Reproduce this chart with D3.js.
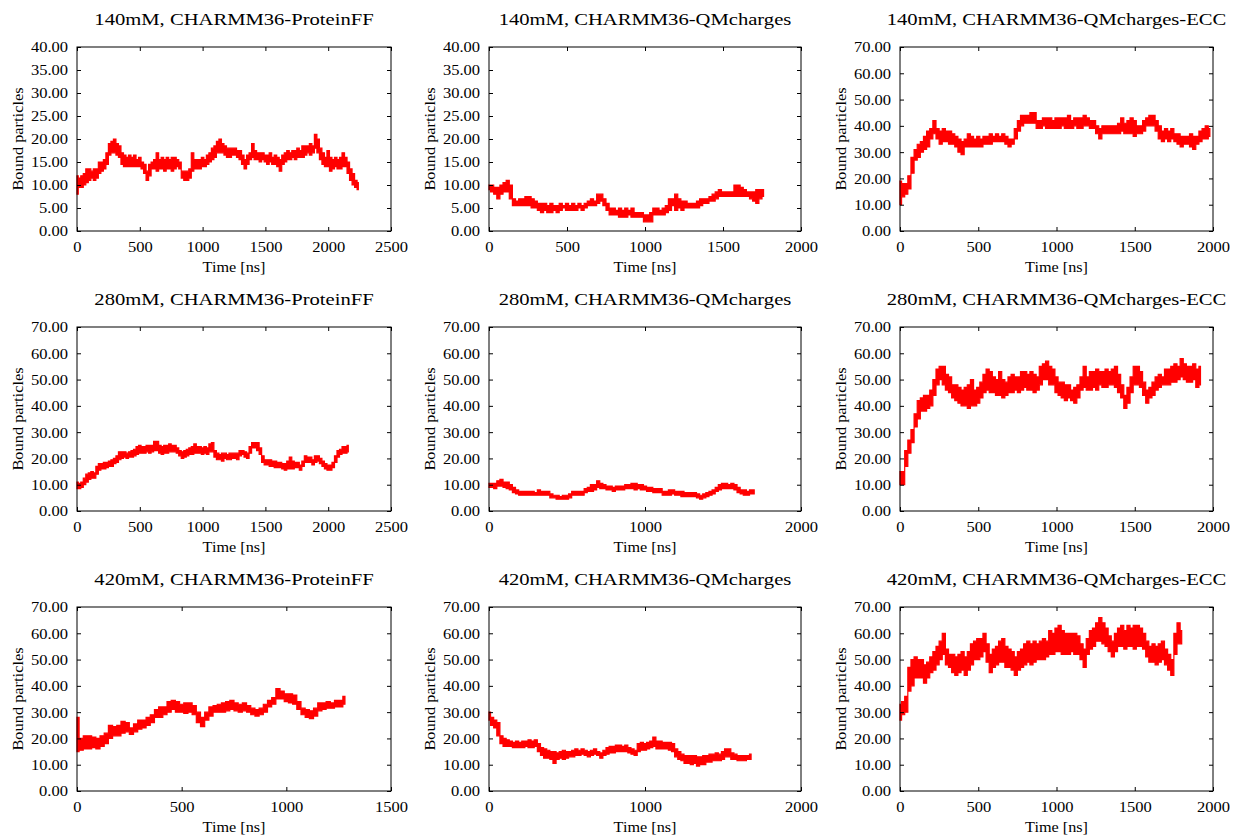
<!DOCTYPE html>
<html>
<head>
<meta charset="utf-8">
<script src="https://cdn.jsdelivr.net/npm/d3@7"></script>
<style>
  body { margin: 0; background: #fff; }
  svg { display: block; }
  text { font-family: "Liberation Serif", "Times New Roman", serif; fill: #000; }
</style>
</head>
<body>
<svg id="chart" width="1236" height="839"></svg>
<script>
// Bound particles: lowest and highest count within each 20 ns window, from t = 0.
const p140ProteinLo = [8,9.5,9.5,10,10.5,11,11.5,11,11.5,12.5, 13,13.5,14.5,16.5,17,17,16.5,16,14.5,14,
  14,14,14,14,14,14,13.5,12.5,11,12, 13.5,13.5,13,13.5,13.5,13,13.5,13.5,13,13.5,
  14,13.5,11.5,11,11,11.5,13,13.5,13.5,13.5, 14,14,14.5,15,15.5,16,17,17,17,16.5,
  16,16,16.5,16.5,16,15.5,14.5,13.5,14.5,15.5, 16,15.5,15.5,15,15.5,15,14.5,15,14.5,14.5,
  14,13,14.5,15,15.5,15.5,16,15.5,16,16, 16,16.5,17,16.5,17,18,17,15.5,14.5,14,
  14,13,13.5,14,13.5,13.5,14,14,12.5,11, 10,9.5,9];
const p140ProteinHi = [12,11.5,12,12.5,13.5,13.5,13,13.5,13.5,15, 15,15.5,17,19,19.5,20,19,18.5,17,16.5,
  16,16.5,16,16.5,15.5,16,15,14.5,13,14.5, 15,15.5,17,15.5,16,15.5,16,15.5,16,16,
  15.5,15,13,13,13,13.5,17,15.5,15.5,15.5, 16,15.5,16.5,17,18,18.5,19.5,20,19,18.5,
  18,18,18,18,17.5,17.5,16.5,15.5,16.5,17, 19,17.5,17,17,17,16.5,16.5,17,16,16.5,
  16,15.5,16.5,17,17.5,17,17.5,17.5,18,17.5, 18.5,18.5,18.5,19,18.5,21,20,18,17,16,
  17.5,16,15.5,16,15.5,16,17,16,15,13.5, 12.5,11,10.5];
const p140QMLo = [9,8.5,8,7,8,8.5,8.5,7,5.5,5.5, 5.5,5.5,5.5,5.5,5,5,4.5,4,4.5,4,
  4,4.5,4,4.5,5,4.5,4.5,4.5,4.5,5, 4.5,5,5.5,5.5,5.5,6,6.5,5.5,4.5,3.5,
  3.5,3.5,3,3,3,3.5,3,3,3,3, 2,2,2,3.5,3.5,3.5,3.5,4,4.5,5.5,
  4.5,5,4.5,5,5,5,5,5,5.5,6, 6,6.5,6.5,7,7.5,7.5,7.5,7.5,7.5,7.5,
  7.5,7.5,7.5,7.5,7,6.5,6,7,7.5];
const p140QMHi = [10,10,9.5,9.5,10,10.5,11,10,7,6.5, 7,7,7.5,7.5,7,6.5,6,6,6,5.5,
  6,5.5,5.5,6,5.5,6,5.5,6,5.5,6, 5.5,6,6.5,7,6.5,8,8,7,6,5,
  5,4.5,5,4.5,5,4.5,5,4,4,4, 3.5,3.5,4,5,5,4.5,5,5.5,7,7,
  8,7,6.5,6.5,6,6,6,6.5,7,7, 7,7.5,8,8.5,9,8.5,8.5,8.5,8.5,10,
  10,9.5,9,8.5,8.5,8.5,9,9,9];
const p140ECCLo = [10,13,14,16,22,27,28,30,31,32, 35,37,35,33,34,34,33,33,32,30,
  29,32,32,32,32,32,32,33,33,33, 34,34,34,34,33,32,33,35,38,40,
  41,41,41,41,39,39,40,39,39,39, 39,39,40,39,39,39,40,39,39,40,
  40,39,39,37,35,37,37,37,37,37, 37,38,37,37,37,36,37,37,38,40,
  40,40,38,35,34,35,34,35,34,33, 32,33,33,32,31,33,34,35,35,36];
const p140ECCHi = [19,18,18,21,28,31,33,34,36,38, 39,42,39,38,39,38,38,37,36,35,
  34,35,37,36,35,36,35,36,36,37, 36,37,36,37,36,35,35,39,42,44,
  44,44,45,45,42,42,43,43,43,42, 43,43,43,43,44,42,43,43,43,44,
  43,42,42,40,39,40,40,40,40,40, 41,43,41,42,43,42,40,40,42,43,
  44,44,42,40,38,39,38,39,37,37, 36,36,36,37,36,36,38,39,40,39];
const p280ProteinLo = [8.5,8.5,9,10,11,12,12.5,12.5,14,15.5, 16,16,16.5,17,17,18,18.5,19.5,20,20.5,
  20,20.5,20.5,21,21.5,22,22,22,22.5,22, 22.5,23,23,22,21.5,22,22,22.5,22.5,22.5,
  22,21,20,20.5,21,21.5,21.5,22,22,22, 21.5,22,21.5,22.5,22.5,20.5,19.5,19.5,19,20,
  19.5,19.5,20,20,19.5,21,21.5,20.5,20,22, 24,24,23,21.5,18.5,17.5,17.5,17,17,16.5,
  16.5,16.5,16,15.5,16,16,16,16.5,16.5,15.5, 17,18.5,18.5,18.5,17.5,18.5,19,18,17,16,
  15.5,15.5,16.5,18.5,20.5,21.5,22,22,22.5];
const p280ProteinHi = [11,10.5,11,12.5,14,14.5,15,14.5,17,18, 18,18.5,18.5,19,19.5,20,21,22.5,22.5,22.5,
  22,22.5,23,23.5,24.5,25,24.5,24.5,25,25, 25,26.5,26.5,25,24.5,25,25,25.5,25,25,
  24,23,22.5,23,23.5,24,24.5,25.5,24.5,24.5, 24,24.5,24,25.5,26,23,22,21.5,22,22,
  21.5,22,22,22,22,23,23,22.5,22,24.5, 26,26,26,24,21,19.5,19.5,19.5,19,19,
  18.5,18.5,18,18,19,20.5,19,18.5,18.5,17.5, 19,21,20.5,20.5,19.5,21,21,20,19,18,
  17.5,17.5,18.5,21,23,23.5,24.5,24.5,25];
const p280QMLo = [9,9,8.5,9.5,9.5,9,8.5,8,7,6.5, 6,6,6,6,6,6,6,6,6,6,
  5,5,4.5,4.5,4.5,4.5,5,6,6,6, 6,7,7.5,7.5,8,9,8.5,8.5,8,8,
  7.5,8,8,8,8.5,8.5,8.5,8,8.5,8, 8,7.5,7.5,7,7,7,6,6,6,6.5,
  6,6,5.5,5.5,5.5,5.5,5.5,5,4.5,5, 5.5,6,6.5,7.5,8,8.5,8.5,8.5,8.5,8,
  7,6.5,6,6,6.5,6.5];
const p280QMHi = [10.5,10.5,10.5,11.5,12,11,11,10,9,8, 7.5,7.5,7.5,7.5,7.5,7,8,7.5,7.5,7.5,
  6.5,6,6,5.5,6,6,6.5,7.5,7.5,7.5, 7.5,8.5,9,10,10,11.5,10.5,10,9.5,9.5,
  9,9.5,9.5,9.5,10,10,10.5,10.5,10,10, 9.5,9,9,8.5,8.5,8.5,7.5,7.5,8,8,
  7.5,7.5,7.5,7,7,7,7,6.5,6,6.5, 7,7.5,8,9,10,10.5,10.5,10,10.5,10,
  9,8,8,7.5,8,8];
const p280ECCLo = [10,10,17,22,26,32,35,38,38,39, 40,44,48,50,48,46,45,43,42,41,
  40,40,39,40,40,41,43,45,46,45, 45,44,44,43,44,45,45,46,45,46,
  47,46,46,45,46,48,50,50,48,48, 45,44,43,42,43,42,41,43,46,47,
  46,46,47,46,48,47,47,48,48,47, 45,43,39,41,45,48,48,47,44,41,
  43,44,46,47,48,48,48,49,49,50, 51,50,49,49,50,47,48];
const p280ECCHi = [15,15,23,27,31,37,42,43,44,44, 46,50,54,55,55,52,51,48,48,47,
  46,47,48,50,46,47,49,52,54,53, 51,50,53,50,49,51,52,51,51,53,
  53,52,53,52,51,55,56,57,55,54, 51,49,49,48,48,46,47,48,51,55,
  51,53,53,54,53,53,54,53,54,55, 52,48,44,47,51,55,55,53,49,46,
  47,49,51,52,51,54,54,55,56,55, 58,56,55,55,56,54,55];
const p420ProteinLo = [15,15.5,16,16,16.5,16,17,18,20,21, 21,22,22.5,21.5,22.5,23.5,24,25,26,28,
  28,29,30,31,30,30,29.5,30,29,26, 24.5,27,28.5,30,30,30,30.5,31,30.5,30,
  30.5,30,29,28.5,29,30,32,33,35,35, 34,33.5,33,31,29,28,27.5,28.5,30.5,31,
  31.5,31.5,32,32,33];
const p420ProteinHi = [28,20,21,21,20.5,20,21,22,25,24.5, 25,26.5,26,24,25.5,27,27,28,29,31,
  32,32,34,34.5,34,33,33.5,33.5,32.5,30, 28,30,32,32.5,33,33.5,34,34.5,33.5,33,
  33.5,32.5,31.5,31,31.5,33,34.5,35.5,39,38, 37,37,36.5,34,31.5,31,30.5,31.5,33.5,33.5,
  34,33.5,34.5,34.5,36];
const p420QMLo = [27,25,24,21,18,17,17,17,16.5,16.5, 16.5,16.5,17,16.5,16.5,17,15,13.5,12.5,12.5,
  12,10.5,12,12.5,12,12.5,13,13,13.5,13.5, 14,13.5,13,13.5,14,13.5,12.5,13.5,14,14.5,
  14.5,15,15,15,15,14.5,14,13.5,15,15.5, 15.5,16,16.5,17,16,16,16,16,15.5,15,
  13,12,11.5,10.5,10.5,10,10.5,9.5,10,10, 11,11,11.5,11.5,11.5,12,13,13,12,12,
  11.5,11.5,11.5,12,12];
const p420QMHi = [30,28,27,26,21,20,19.5,19,18.5,19, 18.5,19,19,19.5,19,19.5,18,16.5,16,15.5,
  15,15,14.5,15,15.5,15,15,15.5,16,15.5, 16,15.5,15,15.5,16,15,14.5,15.5,16.5,17,
  17,17.5,17.5,17,17.5,16.5,16,15.5,18,18.5, 18,18.5,19,20.5,19,19,18.5,18.5,18.5,18,
  16,15,14,13.5,13.5,13.5,13.5,13,13,13.5, 13.5,14,14,14.5,14,15,16,16,14.5,14,
  13.5,13.5,13.5,13.5,14];
const p420ECCLo = [27,29,30,38,40,43,43,43,41,43, 45,46,48,50,52,48,47,45,44,45,
  46,44,46,48,50,50,51,53,49,45, 47,48,49,49,47,47,46,44,46,47,
  48,49,48,49,50,50,50,51,52,52, 53,53,52,52,52,53,52,52,50,47,
  52,54,55,57,57,56,55,53,51,53, 55,55,54,55,55,54,55,55,54,51,
  49,49,48,49,50,48,46,44,52,56, 56];
const p420ECCHi = [33,34,36,47,50,51,50,50,48,49, 51,53,55,57,60,54,52,52,51,52,
  53,51,53,56,57,58,58,60,56,52, 54,55,57,58,55,54,53,51,53,54,
  56,57,56,57,56,57,58,57,61,60, 62,63,61,60,60,60,60,59,56,54,
  58,61,62,64,66,64,62,59,57,60, 62,63,61,63,62,63,63,62,60,57,
  55,56,55,56,57,54,52,50,60,64, 61];

// Window width, ns
const step = 20;

// Panel titles
const titles = [
  "140mM, CHARMM36-ProteinFF", "140mM, CHARMM36-QMcharges", "140mM, CHARMM36-QMcharges-ECC",
  "280mM, CHARMM36-ProteinFF", "280mM, CHARMM36-QMcharges", "280mM, CHARMM36-QMcharges-ECC",
  "420mM, CHARMM36-ProteinFF", "420mM, CHARMM36-QMcharges", "420mM, CHARMM36-QMcharges-ECC"
];

// Axis ticks
const xTicks2500 = [0, 500, 1000, 1500, 2000, 2500];
const xTicks2000 = [0, 500, 1000, 1500, 2000];
const xTicks2000Coarse = [0, 1000, 2000];
const xTicks1500 = [0, 500, 1000, 1500];
const yTicks40 = [0, 5, 10, 15, 20, 25, 30, 35, 40];
const yTicks70 = [0, 10, 20, 30, 40, 50, 60, 70];

const lows  = [p140ProteinLo, p140QMLo, p140ECCLo, p280ProteinLo, p280QMLo, p280ECCLo, p420ProteinLo, p420QMLo, p420ECCLo];
const highs = [p140ProteinHi, p140QMHi, p140ECCHi, p280ProteinHi, p280QMHi, p280ECCHi, p420ProteinHi, p420QMHi, p420ECCHi];
const xTickSets = [xTicks2500, xTicks2000, xTicks2000, xTicks2500, xTicks2000Coarse, xTicks2000, xTicks1500, xTicks2000Coarse, xTicks2000];
const yTickSets = [yTicks40, yTicks40, yTicks70, yTicks70, yTicks70, yTicks70, yTicks70, yTicks70, yTicks70];

// Grid geometry (pixel extents of each plot frame)
const colX = [[77, 391], [489, 801], [900, 1213]];
const rowY = [[47, 231], [327, 511], [607, 791]];

const tickFont = 14, tickSx = 1.18;
const titleFont = 16.5, titleSx = 1.25;
const xlabFont = 15, xlabSx = 1.08;
const ylabFont = 14, ylabSx = 1.17;

const svg = d3.select("#chart");
const fmtY = d3.format(".2f");

lows.forEach((lo, i) => {
  const hi = highs[i];
  const r = Math.floor(i / 3), c = i % 3;
  const [x0, x1] = colX[c], [y0, y1] = rowY[r];
  const xt = xTickSets[i], yt = yTickSets[i];
  const x = d3.scaleLinear().domain([0, d3.max(xt)]).range([x0, x1]);
  const y = d3.scaleLinear().domain([0, d3.max(yt)]).range([y1, y0]);
  const g = svg.append("g");

  // fluctuation band of the trajectory (min..max per window)
  const band = d3.area()
    .curve(d3.curveStep)
    .x((d, k) => x(k * step))
    .y0(d => y(d[0]))
    .y1(d => y(d[1]));
  g.append("path").datum(lo.map((v, k) => [v, hi[k]]))
    .attr("d", band)
    .attr("fill", "#ff0000")
    .attr("stroke", "#ff0000")
    .attr("stroke-width", 1.2)
    .attr("stroke-linejoin", "miter");

  // inward ticks on all four sides
  const ax = (gen, tx, ty) => {
    const a = g.append("g").attr("transform", `translate(${tx},${ty})`).call(gen);
    a.attr("font-size", null).attr("font-family", null);
    a.select(".domain").remove();
    a.selectAll(".tick line").attr("stroke", "#000").attr("stroke-width", 1);
    return a;
  };
  const bottom = ax(d3.axisBottom(x).tickValues(xt).tickSize(-4).tickFormat(d3.format("d")), 0, y1);
  bottom.selectAll("text")
    .attr("y", 21).attr("dy", null)
    .style("font-size", tickFont + "px")
    .attr("transform", `scale(${tickSx},1)`);
  ax(d3.axisTop(x).tickValues(xt).tickSize(-4).tickFormat(""), 0, y0);
  const left = ax(d3.axisLeft(y).tickValues(yt).tickSize(-4).tickFormat(fmtY), x0, 0);
  left.selectAll("text")
    .attr("x", -9 / tickSx).attr("dy", "0.35em")
    .style("font-size", tickFont + "px")
    .attr("transform", `scale(${tickSx},1)`);
  ax(d3.axisRight(y).tickValues(yt).tickSize(-4).tickFormat(""), x1, 0);

  // frame
  g.append("rect")
    .attr("x", x0).attr("y", y0)
    .attr("width", x1 - x0).attr("height", y1 - y0)
    .attr("fill", "none").attr("stroke", "#000").attr("stroke-width", 1);

  const cx = (x0 + x1) / 2, cy = (y0 + y1) / 2;
  g.append("text")
    .attr("transform", `translate(${cx},${y0 - 22}) scale(${titleSx},1)`)
    .attr("text-anchor", "middle")
    .style("font-size", titleFont + "px")
    .text(titles[i]);
  g.append("text")
    .attr("transform", `translate(${cx},${y1 + 41}) scale(${xlabSx},1)`)
    .attr("text-anchor", "middle")
    .style("font-size", xlabFont + "px")
    .text("Time [ns]");
  g.append("text")
    .attr("transform", `translate(${x0 - 59},${cy}) rotate(-90) scale(${ylabSx},1)`)
    .attr("text-anchor", "middle")
    .attr("dy", "0.35em")
    .style("font-size", ylabFont + "px")
    .text("Bound particles");
});
</script>
</body>
</html>
